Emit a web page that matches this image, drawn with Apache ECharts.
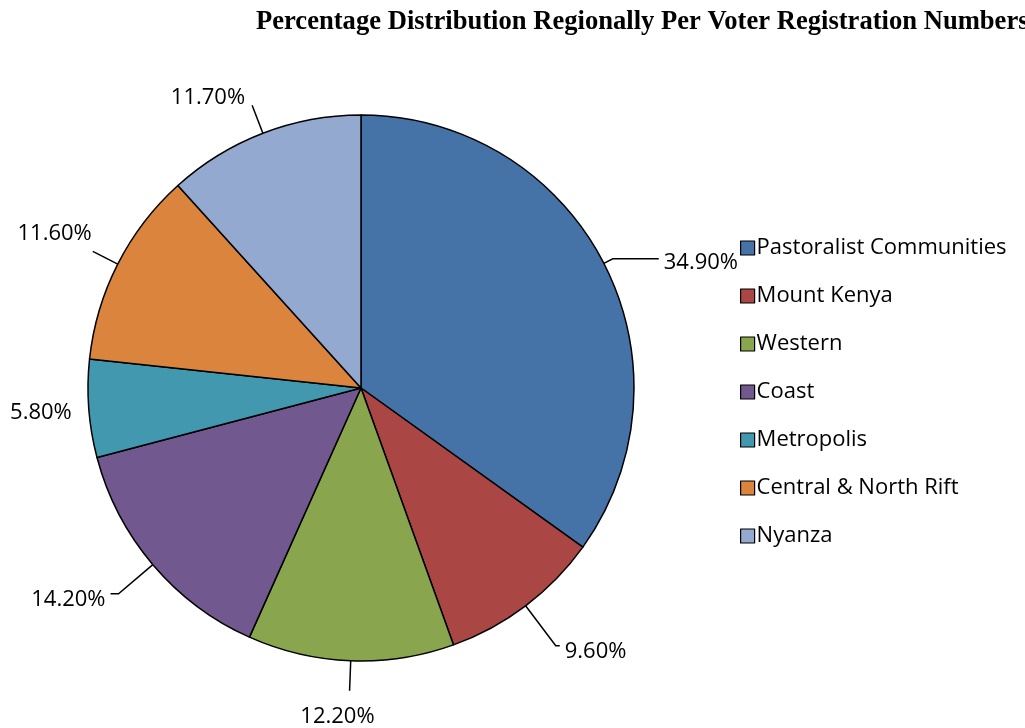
<!DOCTYPE html>
<html>
<head>
<meta charset="utf-8">
<script src="https://cdn.jsdelivr.net/npm/echarts@6/dist/echarts.min.js"></script>
<style>
    html, body { margin: 0; padding: 0; background: #fff; }
    #chart { width: 1025px; height: 728px; }
</style>
</head>
<body>
<div id="chart"></div>
<script>
    // regions and their share of registered voters (%)
    var regions = ['Pastoralist Communities', 'Mount Kenya', 'Western', 'Coast', 'Metropolis', 'Central & North Rift', 'Nyanza'];
    var shares = [34.9, 9.6, 12.2, 14.2, 5.8, 11.6, 11.7];
    var colors = ['#4572A7', '#AA4643', '#89A54E', '#71588F', '#4198AF', '#DB843D', '#93A9CF'];

    // leader line lengths per slice (first / second segment)
    var lineLen = [10, 50, 30, 45, 4, 28, 30];
    var lineLen2 = [46, 4, 0, 8, 4, 0, 0];
    // small nudges of the labels, [dx, dy]
    var labelNudge = [[0, 4], [0, 6], [30, 26], [0, 6], [-4, 4], [4, -18], [-2, -8]];

    var pieData = [];
    for (var i = 0; i < regions.length; i++) {
        pieData.push({
            name: regions[i],
            value: shares[i],
            itemStyle: { color: colors[i] },
            labelLine: { show: i !== 4, length: lineLen[i], length2: lineLen2[i] }
        });
    }

    var labelFont = '"Open Sans", "Noto Sans", sans-serif';

    var option = {
        backgroundColor: '#ffffff',
        animation: false,
        title: {
            text: 'Percentage Distribution Regionally Per Voter Registration Numbers',
            left: 251,
            top: 4,
            textStyle: {
                fontFamily: '"Liberation Serif", "Times New Roman", serif',
                fontWeight: 'bold',
                fontSize: 26.6,
                color: '#000'
            }
        },
        legend: {
            orient: 'vertical',
            left: 735,
            top: 232,
            itemWidth: 14,
            itemHeight: 14,
            itemGap: 26,
            icon: 'rect',
            itemStyle: { borderColor: '#000', borderWidth: 1.2 },
            textStyle: { fontFamily: labelFont, fontSize: 22, color: '#000', padding: [0, 0, 0, -3] },
            data: regions
        },
        series: [
            {
                type: 'pie',
                center: [361, 388],
                radius: 273,
                startAngle: 90,
                clockwise: true,
                itemStyle: { borderColor: '#000', borderWidth: 1.5 },
                label: {
                    show: true,
                    position: 'outside',
                    overflow: 'none',
                    fontFamily: labelFont,
                    fontSize: 22,
                    color: '#000',
                    formatter: function (p) { return p.value.toFixed(2) + '%'; }
                },
                labelLine: {
                    show: true,
                    lineStyle: { color: '#000', width: 1.5 }
                },
                labelLayout: function (p) {
                    var n = labelNudge[p.dataIndex];
                    return { dx: n[0], dy: n[1] };
                },
                emphasis: { disabled: true },
                data: pieData
            }
        ]
    };

    var myChart = echarts.init(document.getElementById('chart'));
    myChart.setOption(option);
</script>
</body>
</html>
